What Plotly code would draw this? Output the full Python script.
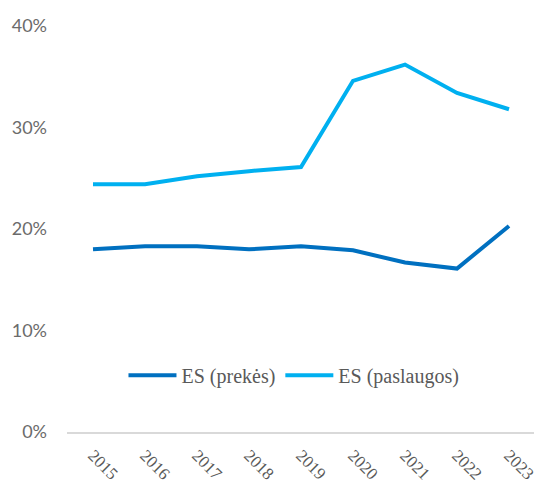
import plotly.graph_objects as go

years = ["2015", "2016", "2017", "2018", "2019", "2020", "2021", "2022", "2023"]
es_prekes = [18.0, 18.3, 18.3, 18.0, 18.3, 17.9, 16.7, 16.1, 20.3]
es_paslaugos = [24.4, 24.4, 25.2, 25.7, 26.1, 34.6, 36.2, 33.4, 31.8]
y_ticks = [0, 10, 20, 30, 40]
y_tick_labels = ["0%", "10%", "20%", "30%", "40%"]

fig = go.Figure()
fig.add_trace(go.Scatter(x=years, y=es_prekes, name="ES (prekės)", mode="lines",
                         line=dict(color="#0070C0", width=4)))
fig.add_trace(go.Scatter(x=years, y=es_paslaugos, name="ES (paslaugos)", mode="lines",
                         line=dict(color="#00B0F0", width=4)))

# page body has an 8px margin, so the figure is drawn 8px smaller and offset
fig.update_layout(
    width=534, height=478,
    margin=dict(l=59, r=7, t=18, b=54),
    paper_bgcolor="white", plot_bgcolor="white",
    showlegend=True,
    legend=dict(orientation="h", x=0.485, xanchor="center", y=0.14, yanchor="middle",
                font=dict(family="Liberation Serif", size=20, color="#595959"),
                bgcolor="rgba(0,0,0,0)", itemwidth=48, tracegroupgap=0),
)
fig.update_xaxes(type="category", range=[-0.5, 8.5], automargin=False, showgrid=False,
                 showline=True, linecolor="#D9D9D9", linewidth=1.5,
                 tickangle=45, ticks="", ticklabelstandoff=5,
                 tickfont=dict(family="Liberation Serif", size=17, color="#595959"))
fig.update_yaxes(range=[0, 40], tickvals=y_ticks, ticktext=y_tick_labels, showgrid=False,
                 automargin=False, zeroline=False, showline=False, ticks="", ticklabelstandoff=19,
                 tickfont=dict(family="Lato", size=18, color="#6b6b6b"))

fig.write_html("out.html")
